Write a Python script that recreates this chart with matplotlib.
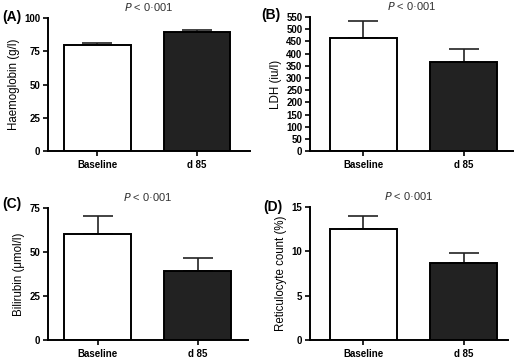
import matplotlib
matplotlib.use("Agg")
import matplotlib.pyplot as plt

groups = ["Baseline", "d 85"]
panel_tags = ["(A)", "(B)", "(C)", "(D)"]
ylabels = ["Haemoglobin (g/l)", "LDH (iu/l)", "Bilirubin (\u03bcmol/l)", "Reticulocyte count (%)"]
hb_mean = [79.5, 89.5]
hb_err = [1.5, 1.5]
ldh_mean = [465, 365]
ldh_err = [70, 53]
bili_mean = [60, 39]
bili_err = [10.5, 7.5]
retic_mean = [12.5, 8.7]
retic_err = [1.5, 1.1]
yticks_list = [[0, 25, 50, 75, 100], list(range(0, 551, 50)), [0, 25, 50, 75], [0, 5, 10, 15]]
pval = "< 0\u00b7001"

plt.rcParams["font.family"] = ["Liberation Sans", "DejaVu Sans"]

fig = plt.figure(figsize=(5.15, 3.58), dpi=100)
rects = [
    [0.0932, 0.578, 0.392, 0.3715],
    [0.602, 0.578, 0.394, 0.3745],
    [0.0932, 0.0503, 0.388, 0.369],
    [0.602, 0.0503, 0.384, 0.3715],
]
xlims = [(-0.495, 1.53), (-0.53, 1.49), (-0.495, 1.50), (-0.53, 1.44)]
# tag positions in figure pixels (x, y from top)
tag_pos = [(2, 17), (261, 15), (2, 204), (263, 207)]
means = [hb_mean, ldh_mean, bili_mean, retic_mean]
errs = [hb_err, ldh_err, bili_err, retic_err]

for i in range(4):
    ax = fig.add_axes(rects[i])
    x = range(len(groups))
    ax.bar(x, means[i], width=0.67, color=["white", "#222222"],
           edgecolor="black", linewidth=1.4, zorder=2)
    ax.errorbar(x, means[i], yerr=[[0, 0], errs[i]], fmt="none",
                ecolor="#222222", elinewidth=1.2, capsize=11, capthick=1.2, zorder=1)
    ax.set_xlim(*xlims[i])
    yt = yticks_list[i]
    ax.set_ylim(0, yt[-1])
    ax.set_yticks(yt)
    ax.set_xticks(list(x))
    ax.set_xticklabels(groups, fontweight="bold", fontsize=7)
    for lab in ax.get_yticklabels():
        lab.set_fontweight("bold")
        lab.set_fontsize(7)
    ax.spines["top"].set_visible(False)
    ax.spines["right"].set_visible(False)
    ax.spines["left"].set_linewidth(1.4)
    ax.spines["bottom"].set_linewidth(1.4)
    ax.tick_params(direction="out", length=3.5, width=1.2, pad=2)
    ax.tick_params(axis="x", pad=3)
    ax.set_ylabel(ylabels[i], fontsize=8.3, labelpad=3)
    ax.text(0.5, 1.035, "$P$ " + pval, transform=ax.transAxes, ha="center",
            va="bottom", fontsize=8, color="#333333")
    tx, ty = tag_pos[i]
    fig.text(tx / 515, 1 - ty / 358, panel_tags[i], ha="left", va="center",
             fontsize=10, fontweight="bold")

fig.savefig("out.png", dpi=100)
